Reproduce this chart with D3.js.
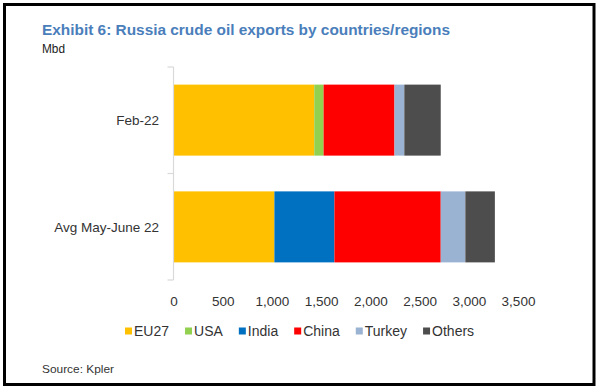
<!DOCTYPE html>
<html><head><meta charset="utf-8">
<script src="https://cdn.jsdelivr.net/npm/d3@7"></script>
<style>body{margin:0;background:#fff}svg{display:block}text{font-family:"Liberation Sans",Arial,sans-serif}</style>
</head><body><svg id="c" width="600" height="391"></svg>
<script>
const categories = ["Feb-22", "Avg May-June 22"];
const seriesNames = ["EU27", "USA", "India", "China", "Turkey", "Others"];
const seriesColors = ["#ffc000", "#92d050", "#0070c0", "#ff0000", "#9bb3d3", "#4d4d4d"];
const EU27   = [1430, 1025];
const USA    = [95, 0];
const India  = [0, 610];
const China  = [720, 1080];
const Turkey = [100, 250];
const Others = [370, 300];
const xTicks = [0, 500, 1000, 1500, 2000, 2500, 3000, 3500];

const seriesValues = [EU27, USA, India, China, Turkey, Others];
const rows = categories.map((c, i) => {
  const r = {cat: c};
  seriesNames.forEach((s, j) => r[s] = seriesValues[j][i]);
  return r;
});

const svg = d3.select("#c");
svg.append("rect").attr("x", 4.5).attr("y", 4.5).attr("width", 589.5).attr("height", 380)
  .attr("fill", "#fff").attr("stroke", "#000").attr("stroke-width", 3);

svg.append("text").attr("x", 42).attr("y", 35).attr("fill", "#4a7ebb")
  .attr("font-weight", "bold").attr("font-size", 15.5)
  .attr("textLength", 408).attr("lengthAdjust", "spacingAndGlyphs")
  .text("Exhibit 6: Russia crude oil exports by countries/regions");
svg.append("text").attr("x", 42).attr("y", 52.5).attr("fill", "#1a1a1a")
  .attr("font-size", 12).attr("textLength", 23).attr("lengthAdjust", "spacingAndGlyphs").text("Mbd");

const x = d3.scaleLinear().domain([0, 3500]).range([173.5, 518]);
const y = d3.scaleBand().domain(categories).range([67, 280]).paddingInner(0.335).paddingOuter(0.165);

const stack = d3.stack().keys(seriesNames)(rows);
const g = svg.append("g");
stack.forEach((layer, j) => {
  g.selectAll(null).data(layer).enter().append("rect")
    .attr("x", d => x(d[0])).attr("width", d => x(d[1]) - x(d[0]))
    .attr("y", d => y(d.data.cat)).attr("height", y.bandwidth())
    .attr("fill", seriesColors[j]);
});

// category axis line with ticks at band boundaries
const r = y.range();
const mid = y(categories[0]) + y.bandwidth() + y.step() * y.paddingInner() / 2;
const bounds = [r[0], mid, r[1]];
svg.append("line").attr("x1", x(0)).attr("x2", x(0)).attr("y1", r[0]).attr("y2", r[1])
  .attr("stroke", "#d9d9d9").attr("stroke-width", 1.2);
svg.selectAll(null).data(bounds).enter().append("line")
  .attr("x1", x(0) - 6).attr("x2", x(0)).attr("y1", d => d).attr("y2", d => d)
  .attr("stroke", "#d9d9d9").attr("stroke-width", 1.2);
svg.selectAll(null).data(categories).enter().append("text")
  .attr("x", 159).attr("y", d => y(d) + y.bandwidth() / 2 + 4.8)
  .attr("text-anchor", "end").attr("font-size", 13.5).attr("fill", "#333").text(d => d);

// x axis (labels only)
const xa = svg.append("g").attr("transform", "translate(0,288)")
  .call(d3.axisBottom(x).tickValues(xTicks).tickFormat(d3.format(",")).tickSize(0).tickPadding(8));
xa.select(".domain").remove();
xa.selectAll("text").attr("font-size", 13.5).attr("fill", "#333")
  .attr("font-family", "'Liberation Sans', Arial, sans-serif");

// legend
const leg = svg.append("g").attr("transform", "translate(125,331)");
let lx = 0;
seriesNames.forEach((s, j) => {
  const it = leg.append("g").attr("transform", `translate(${lx},0)`);
  it.append("rect").attr("x", 0).attr("y", -3.5).attr("width", 7).attr("height", 7).attr("fill", seriesColors[j]);
  const t = it.append("text").attr("x", 9).attr("y", 5).attr("font-size", 14).attr("fill", "#333").text(s);
  lx += 9 + t.node().getComputedTextLength() + 16;
});

svg.append("text").attr("x", 42).attr("y", 373).attr("font-size", 11).attr("fill", "#333")
  .attr("textLength", 72).attr("lengthAdjust", "spacingAndGlyphs").text("Source: Kpler");
</script></body></html>
